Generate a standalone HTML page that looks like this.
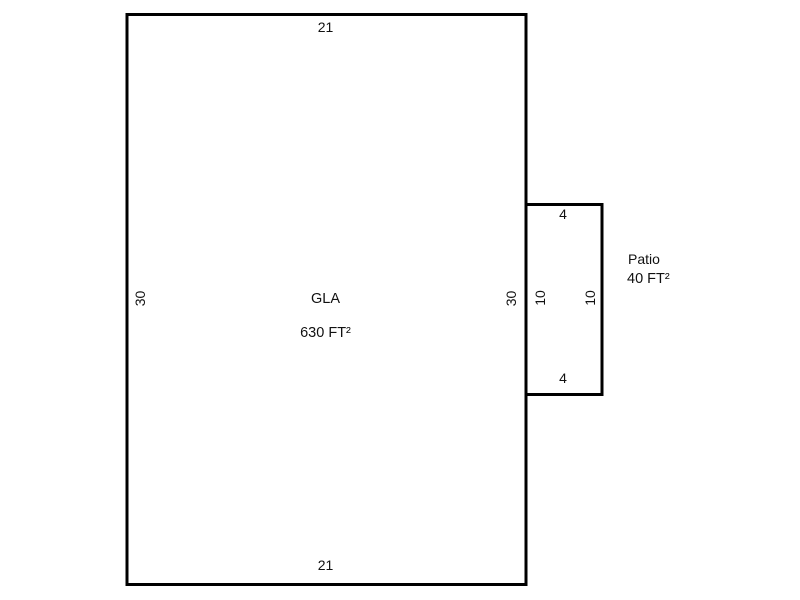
<!DOCTYPE html>
<html>
<head>
<meta charset="utf-8">
<style>
html,body{margin:0;padding:0;background:#fff;width:800px;height:600px;overflow:hidden}
svg{display:block}
text{font-family:"Liberation Sans",Arial,sans-serif;font-size:14px;fill:#111}
text.l{font-size:14.5px}
</style>
</head>
<body>
<svg width="800" height="600" viewBox="0 0 800 600" xmlns="http://www.w3.org/2000/svg">
<rect x="127" y="14.5" width="399" height="570" fill="none" stroke="#000" stroke-width="3"/>
<rect x="526" y="204.5" width="76" height="190" fill="none" stroke="#000" stroke-width="3"/>
<text x="325.5" y="32" text-anchor="middle">21</text>
<text x="325.5" y="570" text-anchor="middle">21</text>
<text class="l" x="325.5" y="303" text-anchor="middle">GLA</text>
<text class="l" x="325.5" y="337" text-anchor="middle">630 FT²</text>
<text x="563" y="219" text-anchor="middle">4</text>
<text x="563" y="383" text-anchor="middle">4</text>
<text x="628" y="264">Patio</text>
<text class="l" x="627" y="283">40 FT²</text>
<text transform="translate(145,298.5) rotate(-90)" text-anchor="middle">30</text>
<text transform="translate(516,298.5) rotate(-90)" text-anchor="middle">30</text>
<text transform="translate(545,298) rotate(-90)" text-anchor="middle">10</text>
<text transform="translate(595,298) rotate(-90)" text-anchor="middle">10</text>
</svg>
</body>
</html>
